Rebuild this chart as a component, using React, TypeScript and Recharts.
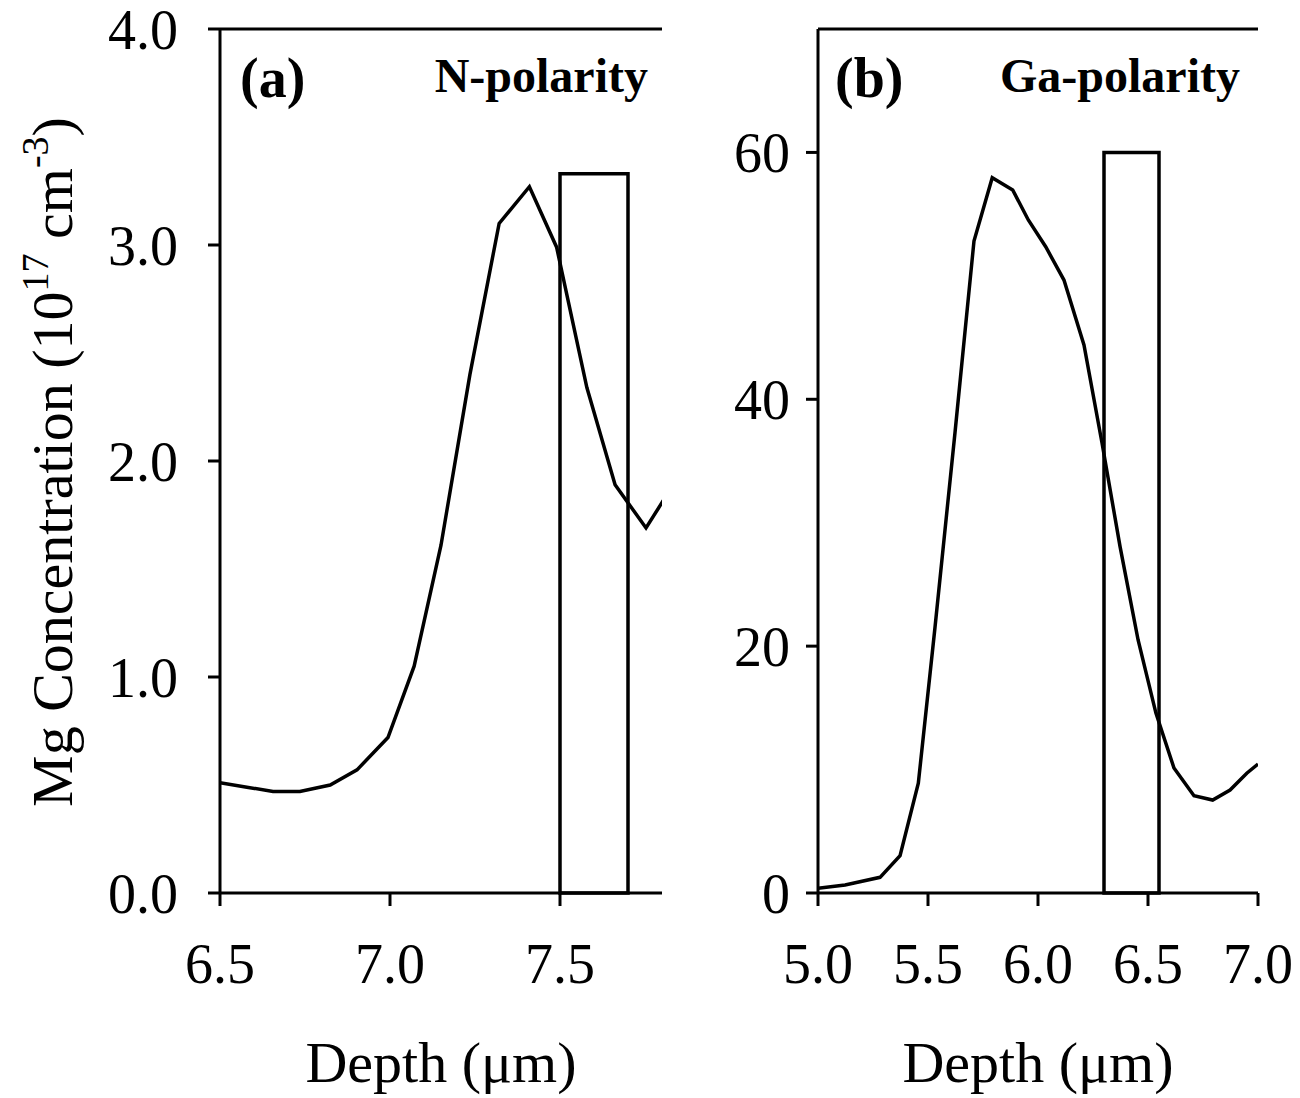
import React from "react";
import {
  LineChart,
  Line,
  XAxis,
  YAxis,
  ReferenceArea,
} from "recharts";

// panel (a) N-polarity, depth in um, Mg in 1e17 cm^-3
const depthA = [6.5, 6.579, 6.656, 6.735, 6.824, 6.903, 6.994, 7.071, 7.15, 7.235, 7.321, 7.41, 7.49, 7.579, 7.662, 7.753, 7.841];
const mgA = [0.51, 0.49, 0.47, 0.47, 0.5, 0.57, 0.72, 1.05, 1.61, 2.4, 3.1, 3.27, 2.99, 2.34, 1.89, 1.69, 1.91];
const windowA = [7.5, 7.7];
const windowTopA = 3.33;
const xTicksA = [6.5, 7.0, 7.5];
const yTicksA = [0, 1, 2, 3, 4];

// panel (b) Ga-polarity
const depthB = [5.0, 5.123, 5.282, 5.373, 5.456, 5.532, 5.623, 5.709, 5.792, 5.885, 5.956, 6.035, 6.118, 6.209, 6.291, 6.373, 6.455, 6.536, 6.618, 6.709, 6.794, 6.873, 6.949, 7.0];
const mgB = [0.38, 0.65, 1.27, 3.02, 8.89, 21.55, 37.35, 52.82, 57.95, 56.96, 54.53, 52.36, 49.66, 44.4, 36.46, 28.06, 20.5, 14.58, 10.13, 7.88, 7.53, 8.34, 9.7, 10.45];
const windowB = [6.3, 6.55];
const windowTopB = 60;
const xTicksB = [5.0, 5.5, 6.0, 6.5, 7.0];
const yTicksB = [0, 20, 40, 60];

const FONT = "'Liberation Serif', 'Times New Roman', serif";
const BLACK = "#000";

const dataA = depthA.map((d, i) => ({ depth: d, mg: mgA[i] }));
const dataB = depthB.map((d, i) => ({ depth: d, mg: mgB[i] }));

const tickStyle = { fill: BLACK, fontSize: 56, fontFamily: FONT };
const axisLine = { stroke: BLACK, strokeWidth: 3 };

function DepthTitle({ cx }: { cx: number }) {
  return (
    <text x={cx} y={1082} textAnchor="middle" fontFamily={FONT} fontSize={58} fill={BLACK}>
      Depth (μm)
    </text>
  );
}

function Panel({
  data,
  xDomain,
  yDomain,
  xTicks,
  yTicks,
  yFmt,
  win,
  winTop,
  width,
  yWidth,
  rightMargin,
  yTickMargin,
  tag,
  title,
  tagX,
  titleX,
  left,
  yTitle,
}: any) {
  const plotCx = yWidth + (width - yWidth - rightMargin) / 2;
  return (
    <div style={{ position: "absolute", left, top: 0 }}>
      <LineChart
        width={width}
        height={1098}
        data={data}
        margin={{ top: 0, right: rightMargin, bottom: 0, left: 0 }}
      >
        <XAxis
          dataKey="depth"
          type="number"
          domain={xDomain}
          ticks={xTicks}
          allowDataOverflow
          interval={0}
          tickFormatter={(v: number) => v.toFixed(1)}
          tick={tickStyle}
          axisLine={axisLine}
          tickLine={axisLine}
          tickSize={13}
          tickMargin={37}
          height={205}
        />
        <XAxis
          xAxisId="top"
          orientation="top"
          dataKey="depth"
          type="number"
          domain={xDomain}
          allowDataOverflow
          tick={false}
          tickLine={false}
          axisLine={axisLine}
          height={29}
        />
        <YAxis
          type="number"
          domain={yDomain}
          ticks={yTicks}
          allowDataOverflow
          interval={0}
          tickFormatter={yFmt}
          tick={tickStyle}
          axisLine={axisLine}
          tickLine={axisLine}
          tickSize={12}
          tickMargin={yTickMargin}
          width={yWidth}
        />
        <YAxis
          yAxisId="right"
          orientation="right"
          type="number"
          domain={yDomain}
          tick={false}
          tickLine={false}
          axisLine={axisLine}
          width={0}
        />
        <ReferenceArea
          x1={win[0]}
          x2={win[1]}
          y1={0}
          y2={winTop}
          fill="none"
          stroke={BLACK}
          strokeWidth={3.5}
          ifOverflow="visible"
        />
        <Line
          type="linear"
          dataKey="mg"
          stroke={BLACK}
          strokeWidth={3.5}
          dot={false}
          activeDot={false}
          isAnimationActive={false}
        />
        <text x={tagX} y={97} fontFamily={FONT} fontWeight="bold" fontSize={56} fill={BLACK}>
          {tag}
        </text>
        <text x={titleX} y={92} textAnchor="end" fontFamily={FONT} fontWeight="bold" fontSize={48} fill={BLACK}>
          {title}
        </text>
        <DepthTitle cx={plotCx} />
        {yTitle ? (
          <text
            x={72}
            y={462}
            transform="rotate(-90 72 462)"
            textAnchor="middle"
            fontFamily={FONT}
            fontSize={58}
            fill={BLACK}
          >
            Mg Concentration (10
            <tspan dy={-24} fontSize={38}>17</tspan>
            <tspan dy={24} fontSize={58}> cm</tspan>
            <tspan dy={-24} fontSize={38}>-3</tspan>
            <tspan dy={24} fontSize={58}>)</tspan>
          </text>
        ) : null}
      </LineChart>
    </div>
  );
}

export default function App() {
  return (
    <div style={{ position: "absolute", left: 0, top: 0, width: 1300, height: 1098, background: "#fff" }}>
      <Panel
        data={dataA}
        xDomain={[6.5, 7.8]}
        yDomain={[0, 4]}
        xTicks={xTicksA}
        yTicks={yTicksA}
        yFmt={(v: number) => v.toFixed(1)}
        win={windowA}
        winTop={windowTopA}
        width={690}
        yWidth={220}
        rightMargin={28}
        yTickMargin={30}
        tag="(a)"
        title="N-polarity"
        tagX={240}
        titleX={648}
        left={0}
        yTitle
      />
      <Panel
        data={dataB}
        xDomain={[5, 7]}
        yDomain={[0, 70]}
        xTicks={xTicksB}
        yTicks={yTicksB}
        yFmt={(v: number) => String(v)}
        win={windowB}
        winTop={windowTopB}
        width={600}
        yWidth={118}
        rightMargin={42}
        yTickMargin={16}
        tag="(b)"
        title="Ga-polarity"
        tagX={135}
        titleX={540}
        left={700}
      />
    </div>
  );
}
